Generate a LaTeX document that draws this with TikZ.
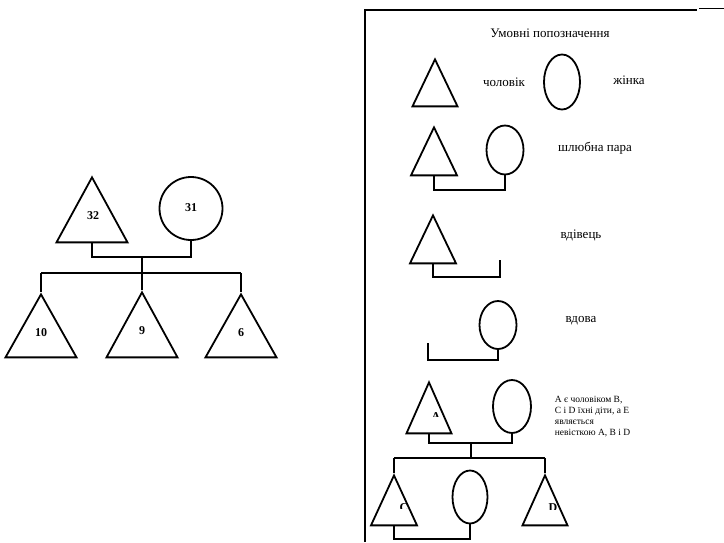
\documentclass[tikz,border=0pt]{standalone}
\usepackage{fontspec}
\setmainfont{Liberation Serif}
\usetikzlibrary{shapes.geometric, positioning}
\tikzset{
	every node/.style={inner sep=0pt},
	male/.style={draw, isosceles triangle, isosceles triangle stretches,
		shape border rotate=90, anchor=apex},
	female/.style={draw, ellipse},
	num/.style={font=\fontsize{12}{14}\selectfont\bfseries},
	lbl/.style={font=\fontsize{13}{15}\selectfont},
	note/.style={font=\fontsize{9.5}{11}\selectfont, align=left}
}

\begin{document}
\begin{tikzpicture}[x=1pt, y=-1pt, line width=1.8pt]
	\useasboundingbox (0,0) rectangle (724,542);
	% family
	\node[male, minimum width=71pt, minimum height=65pt] (t32) at (92,175) {};
	\node[draw, circle, minimum size=63pt] (c31) at (191,208.5) {};
	\node[num] (n32) at (93,216) {32};
	\node[num] (n31) at (191,208) {31};
	\coordinate (j1) at (142,257);
	\draw (t32.lower side) |- (j1) -| (c31.south);
	\node[male, minimum width=71pt, minimum height=63pt] (t10) at (41,292) {};
	\node[male, minimum width=71pt, minimum height=65pt] (t9) at (142,290) {};
	\node[male, minimum width=71pt, minimum height=63pt] (t6) at (241,292) {};
	\node[num] (n10) at (41,333) {10};
	\node[num] (n9) at (142,331) {9};
	\node[num] (n6) at (241,333) {6};
	\coordinate (s1) at (41,273);
	\coordinate (s2) at (241,273);
	\draw (s1) -- (s2);
	\draw (j1) -- (t9.apex);
	\draw (s1) -- (t10.apex);
	\draw (s2) -- (t6.apex);

	% legend frame
	\coordinate (f1) at (365,542);
	\coordinate (f2) at (365,10);
	\coordinate (f3) at (697,10);
	\draw (f1) -- (f2) -- (f3);
	\draw (699,8.5) -- (724,8.5);
	\node[lbl] (title) at (550,33) {Умовні попозначення};

	\node[male, minimum width=45pt, minimum height=47pt] (lt1) at (435,57) {};
	\node[lbl] (man) at (504,82) {чоловік};
	\node[female, minimum width=36pt, minimum height=55pt] (le1) at (562,82) {};
	\node[lbl] (woman) at (629,80) {жінка};

	\node[male, minimum width=46pt, minimum height=48pt] (lt2) at (434,125) {};
	\node[female, minimum width=37pt, minimum height=49pt] (le2) at (505,150) {};
	\draw (lt2.lower side) -- ++(0,14) -| (le2.south);
	\node[lbl] (pair) at (595,148) {шлюбна пара};

	\node[male, minimum width=46pt, minimum height=48pt] (lt3) at (433,213) {};
	\coordinate (w3) at (500,260);
	\draw (lt3.lower side) -- ++(0,13) -| (w3);
	\node[lbl] (widower) at (581,235) {вдівець};

	\node[female, minimum width=37pt, minimum height=48pt] (le4) at (498,325) {};
	\coordinate (v4) at (428,343);
	\draw (le4.south) -- ++(0,10) -| (v4);
	\node[lbl] (widow) at (581,321) {вдова};

	% example
	\node[male, minimum width=45pt, minimum height=51pt] (ltA) at (429,380) {};
	\node[female, minimum width=38pt, minimum height=53pt] (leB) at (512,406.5) {};
	\coordinate (jA) at (471,443);
	\draw (ltA.lower side) |- (jA) -| (leB.south);
	\coordinate (sC) at (394,458);
	\coordinate (sD) at (545,458);
	\draw (sC) -- (sD);
	\draw (jA) -- (jA |- sC);
	\node[male, minimum width=46pt, minimum height=50pt] (ltC) at (394,473) {};
	\node[female, minimum width=35pt, minimum height=53pt] (leE) at (470,497) {};
	\node[male, minimum width=45pt, minimum height=50pt] (ltD) at (545,473) {};
	\draw (sC) -- (ltC.apex);
	\draw (sD) -- (ltD.apex);
	\draw (ltC.lower side) -- ++(0,13) -| (leE.south);
	\begin{scope}
		\clip (426,411) rectangle (446,416);
		\node[num, anchor=north] (lA) at (436,412) {A};
	\end{scope}
	\begin{scope}
		\clip (394,502) rectangle (414,508);
		\node[num, anchor=north] (lC) at (404,503) {C};
	\end{scope}
	\begin{scope}
		\clip (543,502) rectangle (563,509);
		\node[num, anchor=north] (lD) at (553,503) {D};
	\end{scope}
	\node[note, anchor=north west] (expl) at (554,395)
		{А є чоловіком В,\\С і D їхні діти, а Е\\являється\\невісткою А, В і D};
\end{tikzpicture}
\end{document}
